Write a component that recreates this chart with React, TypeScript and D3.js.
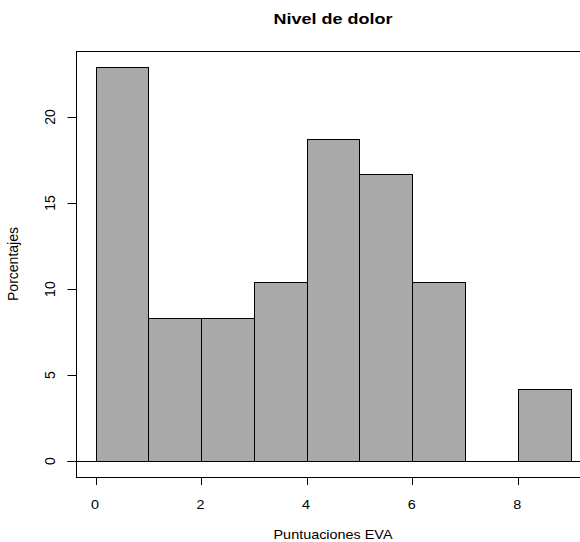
import * as d3 from "d3";
import React, { useEffect, useRef } from "react";

// histogram breaks and percentages (48 patients)
const breaks = [0, 1, 2, 3, 4, 5, 6, 7, 8, 9];
const percentages = [22.92, 8.33, 8.33, 10.42, 18.75, 16.67, 10.42, 0, 4.17];
const xTicks = [0, 2, 4, 6, 8];
const yTicks = [0, 5, 10, 15, 20];

const title = "Nivel de dolor";
const xLabel = "Puntuaciones EVA";
const yLabel = "Porcentajes";

export default function App() {
  const ref = useRef<SVGSVGElement | null>(null);

  useEffect(() => {
    const W = 580;
    const H = 542;
    const svg = d3.select(ref.current);
    svg.selectAll("*").remove();

    // plot region like R: 4% padding around the data range
    const x0 = breaks[0];
    const x1 = breaks[breaks.length - 1];
    const yMax = d3.max(percentages) as number;
    const padX = (x1 - x0) * 0.04;
    const padY = yMax * 0.04;
    const left = 76.5;
    const right = 589.5;
    const top = 51;
    const bottom = 477;

    const x = d3.scaleLinear().domain([x0 - padX, x1 + padX]).range([left, right]);
    const y = d3.scaleLinear().domain([-padY, yMax + padY]).range([bottom, top]);

    const bins = percentages.map((v, i) => ({ x0: breaks[i], x1: breaks[i + 1], v }));
    const font = "'Liberation Sans', Arial, Helvetica, sans-serif";

    svg.append("rect").attr("width", W).attr("height", H).attr("fill", "#fff");

    // bars
    svg
      .append("g")
      .selectAll("rect")
      .data(bins.filter((b) => b.v > 0))
      .join("rect")
      .attr("x", (d) => Math.round(x(d.x0)) + 0.5)
      .attr("y", (d) => Math.round(y(d.v)) + 0.5)
      .attr("width", (d) => Math.round(x(d.x1)) - Math.round(x(d.x0)))
      .attr("height", (d) => Math.round(y(0)) - Math.round(y(d.v)))
      .attr("fill", "#a9a9a9")
      .attr("stroke", "#000")
      .attr("stroke-width", 1);

    // zero line
    svg
      .append("line")
      .attr("x1", left - 9)
      .attr("x2", right)
      .attr("y1", Math.round(y(0)) + 0.5)
      .attr("y2", Math.round(y(0)) + 0.5)
      .attr("stroke", "#000");

    // box
    svg
      .append("rect")
      .attr("x", left)
      .attr("y", top + 0.5)
      .attr("width", right - left)
      .attr("height", bottom - top)
      .attr("fill", "none")
      .attr("stroke", "#000");

    // x axis ticks + labels
    const gx = svg.append("g");
    gx.selectAll("line")
      .data(xTicks)
      .join("line")
      .attr("x1", (d) => Math.round(x(d)) + 0.5)
      .attr("x2", (d) => Math.round(x(d)) + 0.5)
      .attr("y1", bottom + 0.5)
      .attr("y2", bottom + 8)
      .attr("stroke", "#000");
    gx.selectAll("text")
      .data(xTicks)
      .join("text")
      .attr("transform", (d) => `translate(${x(d) - 0.5},508.5) scale(1.2,1)`)
      .attr("text-anchor", "middle")
      .attr("font-family", font)
      .attr("font-size", 12)
      .text((d) => d);

    // y axis ticks + rotated labels
    const gy = svg.append("g");
    gy.selectAll("line")
      .data(yTicks)
      .join("line")
      .attr("x1", left - 9)
      .attr("x2", left)
      .attr("y1", (d) => Math.round(y(d)) + 0.5)
      .attr("y2", (d) => Math.round(y(d)) + 0.5)
      .attr("stroke", "#000");
    gy.selectAll("text")
      .data(yTicks)
      .join("text")
      .attr("transform", (d) => `translate(55,${y(d)}) rotate(-90)`)
      .attr("text-anchor", "middle")
      .attr("font-family", font)
      .attr("font-size", 14)
      .text((d) => d);

    // titles
    svg
      .append("text")
      .attr("transform", `translate(${(left + right) / 2},23.5) scale(1.2,1)`)
      .attr("text-anchor", "middle")
      .attr("font-family", font)
      .attr("font-weight", "bold")
      .attr("font-size", 15)
      .text(title);

    svg
      .append("text")
      .attr("transform", `translate(${(left + right) / 2},539) scale(1.2,1)`)
      .attr("text-anchor", "middle")
      .attr("font-family", font)
      .attr("font-size", 12)
      .text(xLabel);

    svg
      .append("text")
      .attr("transform", `translate(18,${(top + bottom) / 2}) rotate(-90)`)
      .attr("text-anchor", "middle")
      .attr("font-family", font)
      .attr("font-size", 14)
      .text(yLabel);
  }, []);

  return (
    <svg
      ref={ref}
      width={580}
      height={542}
      style={{ position: "absolute", left: 0, top: 0, display: "block" }}
    ></svg>
  );
}
